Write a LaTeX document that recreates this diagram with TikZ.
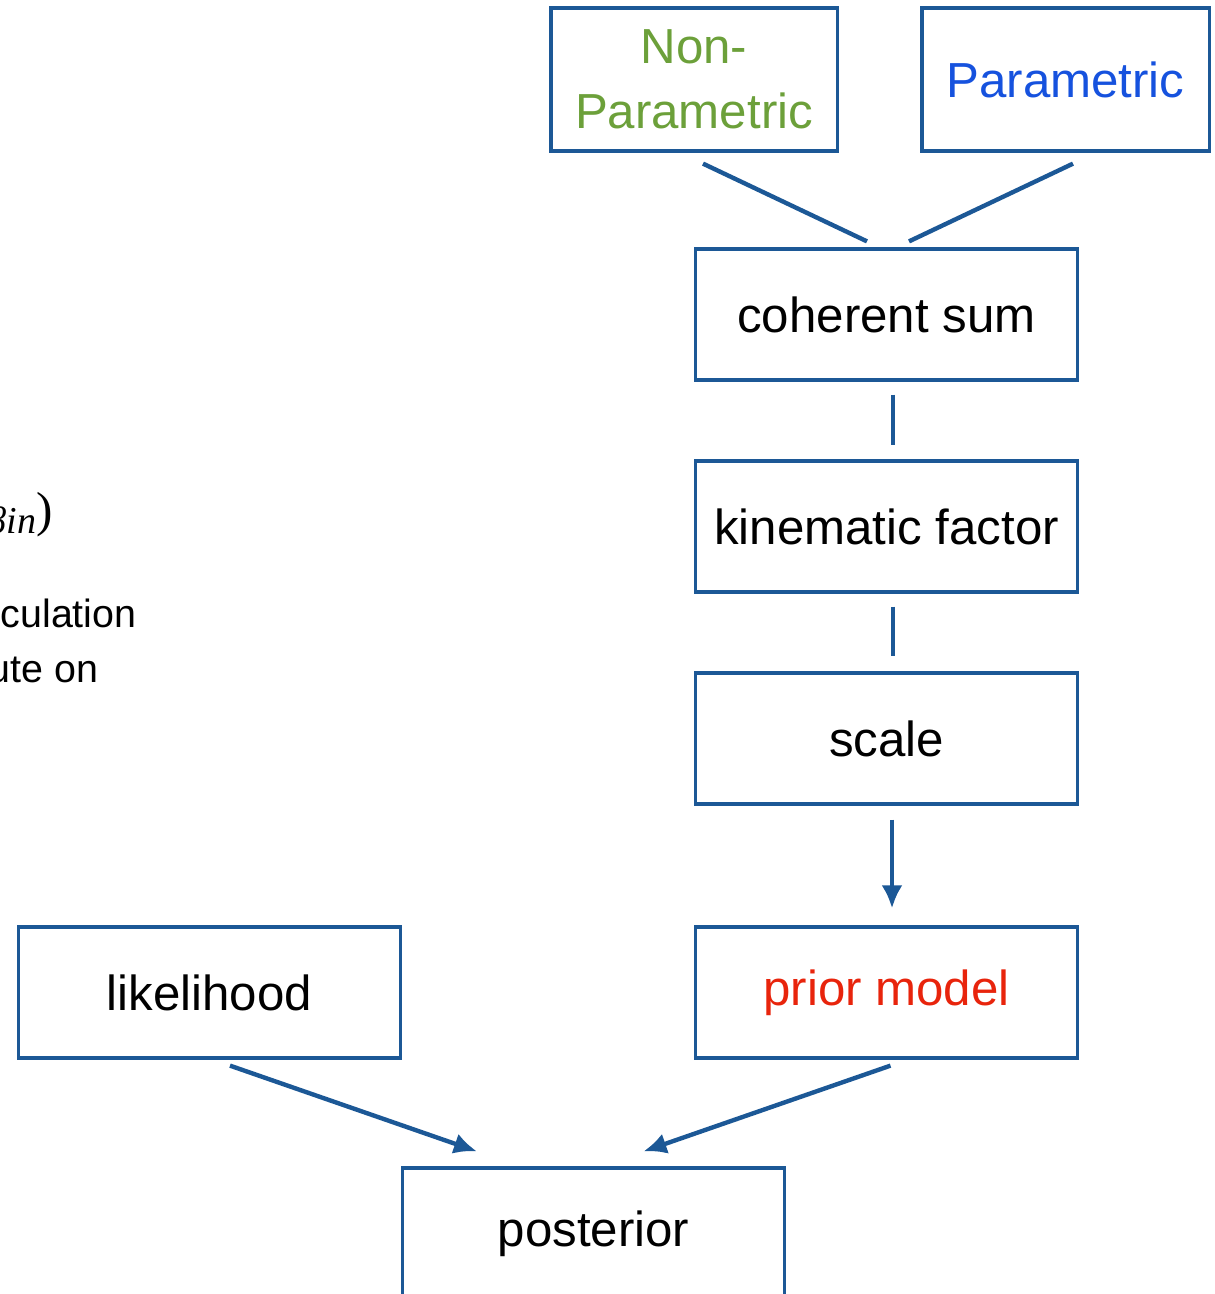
\documentclass[tikz,border=0pt]{standalone}
\usepackage{fontspec}
\setmainfont{Liberation Sans}
\newfontfamily\timesfont{Liberation Serif}
\usetikzlibrary{arrows.meta}
\definecolor{boxblue}{RGB}{28,88,150}
\definecolor{npgreen}{RGB}{108,160,58}
\definecolor{pblue}{RGB}{22,82,222}
\definecolor{pred}{RGB}{232,36,12}
\tikzset{
  box/.style={draw=boxblue, line width=0.9pt, minimum width=3.81cm, minimum height=1.31cm,
    inner sep=0pt, align=center, font=\fontsize{14}{18.5}\selectfont},
  conn/.style={draw=boxblue, line width=1.25pt},
  arr/.style={conn, -{Latex[length=0.23cm,width=0.21cm]}},
  frag/.style={inner sep=0pt, font=\fontsize{11.2}{13}\selectfont}
}
\begin{document}
\begin{tikzpicture}[x=0.01cm,y=-0.01cm]
\useasboundingbox (0,0) rectangle (1214,1294);
\clip (0,0) rectangle (1214,1294);
% boxes
\node[box, minimum width=2.86cm, minimum height=1.43cm, text=npgreen] (np) at (694,79.5) {Non-\\Parametric};
\node[box, minimum width=2.87cm, minimum height=1.43cm, text=pblue] (par) at (1065.5,79.5) {Parametric};
\node[box] (coh) at (886.5,314.5) {coherent sum};
\node[box] (kin) at (886.5,526.5) {kinematic factor};
\node[box] (sca) at (886.5,738.5) {scale};
\node[box, text=pred] (pri) at (886.5,992.5) {prior model};
\node[box] (lik) at (209.5,992.5) {likelihood};
\node[box] (pos) at (593.5,1233.5) {posterior};
% connectors
\draw[conn] ([xshift=0.09cm,yshift=-0.11cm]np.south) -- ([xshift=-0.195cm,yshift=0.06cm]coh.north);
\draw[conn] ([xshift=0.075cm,yshift=-0.11cm]par.south) -- ([xshift=0.225cm,yshift=0.06cm]coh.north);
\draw[conn] ([xshift=0.065cm,yshift=-0.13cm]coh.south) -- ([xshift=0.065cm,yshift=0.14cm]kin.north);
\draw[conn] ([xshift=0.065cm,yshift=-0.13cm]kin.south) -- ([xshift=0.065cm,yshift=0.15cm]sca.north);
\draw[arr] ([xshift=0.055cm,yshift=-0.14cm]sca.south) -- ([xshift=0.055cm,yshift=0.17cm]pri.north);
\draw[arr] ([xshift=0.205cm,yshift=-0.06cm]lik.south) -- ([xshift=-1.165cm,yshift=0.15cm]pos.north);
\draw[arr] ([xshift=0.04cm,yshift=-0.06cm]pri.south) -- ([xshift=0.5cm,yshift=0.15cm]pos.north);
% cut-off text at the left edge
\node[inner sep=0pt, anchor=base west, font=\timesfont] (frag0) at (-13,533)
  {{\fontsize{10.8}{12}\selectfont\itshape βin}\raisebox{1.8pt}{\fontsize{14}{16}\selectfont)}};
\node[frag, anchor=base west] (frag1) at (0,627) {culation};
\node[frag, anchor=base west] (frag2) at (-12,682) {ute on};
\end{tikzpicture}
\end{document}
